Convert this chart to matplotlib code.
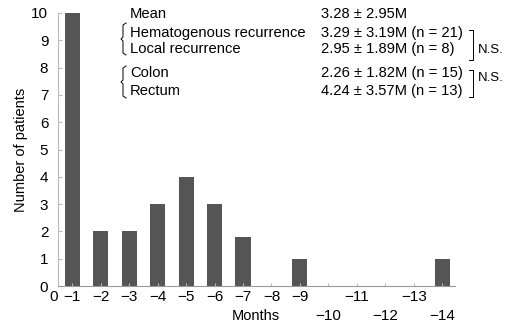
import matplotlib
matplotlib.use('Agg')
import matplotlib.pyplot as plt
from matplotlib.lines import Line2D

plt.rcParams['font.family'] = ['Liberation Sans', 'DejaVu Sans']

# data
months = [1, 2, 3, 4, 5, 6, 7, 8, 9, 10, 11, 12, 13, 14]
patients = [10, 2, 2, 3, 4, 3, 1.8, 0, 1, 0, 0, 0, 0, 1]
upper_ticks = [1, 2, 3, 4, 5, 6, 7, 8, 9, 11, 13]
lower_ticks = [10, 12, 14]

groups = ['Mean', 'Hematogenous recurrence', 'Local recurrence', 'Colon', 'Rectum']
stats = ['3.28 \u00b1 2.95M', '3.29 \u00b1 3.19M (n = 21)', '2.95 \u00b1 1.89M (n = 8)',
         '2.26 \u00b1 1.82M (n = 15)', '4.24 \u00b1 3.57M (n = 13)']
rows_y = [14, 33, 49, 73, 91]   # pixel rows of the legend text

W, H = 514, 327
fig = plt.figure(figsize=(W / 100, H / 100), dpi=100)
ax = fig.add_axes([58 / W, 1 - 286 / H, (455 - 58) / W, (286 - 13) / H])

ax.bar(months, patients, width=0.53, color='#555555')
ax.set_xlim(0.5, 14.45)
ax.set_ylim(0, 10)
ax.spines['top'].set_visible(False)
ax.spines['right'].set_visible(False)
ax.spines['left'].set_color('#bbbbbb')
ax.spines['bottom'].set_color('#999999')

ax.set_yticks(range(0, 11))
ax.tick_params(axis='y', direction='in', length=3, color='#bbbbbb', labelsize=11, pad=7)
ax.set_xticks(months)
ax.set_xticklabels([])
ax.tick_params(axis='x', direction='in', length=2, color='#bbbbbb')

tr = ax.get_xaxis_transform()
ax.text(0.35, -0.042, '0', transform=tr, ha='center', va='center', fontsize=11)
for m in upper_ticks:
    ax.text(m, -0.042, '\u2212' + str(m), transform=tr, ha='center', va='center', fontsize=11)
for m in lower_ticks:
    ax.text(m, -0.11, '\u2212' + str(m), transform=tr, ha='center', va='center', fontsize=11)
fig.text(256 / W, 1 - 316 / H, 'Months', ha='center', va='center', fontsize=10.5)

ax.set_ylabel('Number of patients', fontsize=10.5, labelpad=2)

for g, s, y in zip(groups, stats, rows_y):
    fig.text(130 / W, 1 - y / H, g, ha='left', va='center', fontsize=10.6)
    fig.text(321 / W, 1 - y / H, s, ha='left', va='center', fontsize=10.6)


def fx(x):
    return x / W


def fy(y):
    return 1 - y / H


def brace(x, y0, y1):
    ym = (y0 + y1) / 2
    xs = [x + 3, x, x, x - 2, x, x, x + 3]
    ys = [y0, y0 + 2, ym - 2, ym, ym + 2, y1 - 2, y1]
    fig.add_artist(Line2D([fx(v) for v in xs], [fy(v) for v in ys], color='black', lw=0.7))


def bracket(x, y0, y1):
    xs = [x - 4, x, x, x - 4]
    ys = [y0, y0, y1, y1]
    fig.add_artist(Line2D([fx(v) for v in xs], [fy(v) for v in ys], color='black', lw=0.7))


brace(123, 23, 55)
brace(123, 66, 98)
bracket(473, 30, 60)
bracket(473, 70, 97)
fig.text(478 / W, 1 - 50 / H, 'N.S.', ha='left', va='center', fontsize=9.5)
fig.text(478 / W, 1 - 78 / H, 'N.S.', ha='left', va='center', fontsize=9.5)

plt.savefig('out.png', dpi=100)
